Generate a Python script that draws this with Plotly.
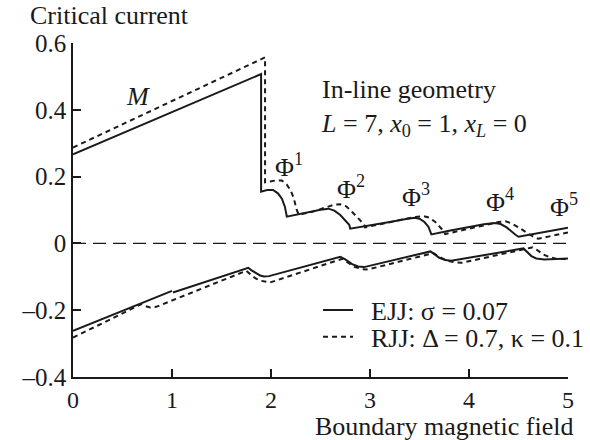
import plotly.graph_objects as go

# Critical current vs. boundary magnetic field, in-line geometry.
# Each branch is a list of (field, current) points; None separates branches.

# EJJ (sigma = 0.07), upper (positive) critical current
ejj_up_x = [0.0, 1.90, 1.90, 1.916, 1.96, 2.02, 2.07, 2.11, 2.14, 2.16,
            2.35, 2.50, 2.58, 2.64, 2.70, 2.75, 2.79, 2.80,
            3.00, 3.20, 3.35, 3.45, 3.50, 3.55, 3.59, 3.61, 3.62,
            3.80, 4.00, 4.15, 4.26, 4.32, 4.38, 4.43, 4.47, 4.50,
            4.70, 4.85, 5.00]
ejj_up_y = [0.267, 0.507, 0.155, 0.156, 0.160, 0.160, 0.150, 0.134, 0.110, 0.080,
            0.092, 0.101, 0.104, 0.098, 0.085, 0.068, 0.056, 0.044,
            0.053, 0.064, 0.072, 0.077, 0.074, 0.064, 0.050, 0.038, 0.027,
            0.038, 0.049, 0.057, 0.061, 0.058, 0.048, 0.035, 0.026, 0.020,
            0.030, 0.039, 0.047]

# RJJ (Delta = 0.7, kappa = 0.1), upper critical current
rjj_up_x = [0.0, 1.94, 1.94, 1.97, 2.04, 2.11, 2.16, 2.20, 2.23, 2.26, 2.28,
            2.40, 2.55, 2.64, 2.70, 2.76, 2.82, 2.88, 2.94, 2.95,
            3.10, 3.30, 3.45, 3.54, 3.60, 3.66, 3.71, 3.75, 3.76,
            3.95, 4.15, 4.30, 4.37, 4.43, 4.50, 4.58, 4.66, 4.70,
            4.85, 5.00]
rjj_up_y = [0.287, 0.557, 0.183, 0.184, 0.188, 0.188, 0.176, 0.158, 0.135, 0.100, 0.086,
            0.093, 0.108, 0.116, 0.117, 0.111, 0.094, 0.074, 0.057, 0.048,
            0.057, 0.070, 0.079, 0.082, 0.077, 0.064, 0.048, 0.035, 0.028,
            0.040, 0.054, 0.064, 0.066, 0.060, 0.048, 0.034, 0.018, 0.014,
            0.024, 0.033]

# EJJ lower (negative) critical current
ejj_lo_x = [0.0, 1.0, None,
            1.01, 1.77, 1.80, 1.85, 1.89, 1.93, 1.98,
            2.70, 2.75, 2.82, 2.88, 2.94,
            3.61, 3.65, 3.70, 3.76, 3.82,
            4.55, 4.59, 4.63, 4.68, 4.76, 5.00]
ejj_lo_y = [-0.262, -0.142, None,
            -0.147, -0.073, -0.080, -0.090, -0.096, -0.099, -0.098,
            -0.040, -0.048, -0.062, -0.069, -0.071,
            -0.024, -0.032, -0.043, -0.050, -0.052,
            -0.015, -0.026, -0.038, -0.045, -0.048, -0.045]

# RJJ lower critical current
rjj_lo_x = [0.0, 0.69, 0.73, 0.78, 0.84,
            1.75, 1.79, 1.84, 1.90, 1.99,
            2.72, 2.77, 2.84, 2.92, 2.98,
            3.64, 3.70, 3.78, 3.86, 3.93,
            4.64, 4.69, 4.75, 4.82, 4.90, 5.00]
rjj_lo_y = [-0.282, -0.182, -0.188, -0.192, -0.190,
            -0.082, -0.092, -0.104, -0.112, -0.117,
            -0.046, -0.056, -0.070, -0.077, -0.078,
            -0.029, -0.040, -0.052, -0.057, -0.058,
            -0.012, -0.020, -0.033, -0.042, -0.047, -0.047]

x_ticks = [0, 1, 2, 3, 4, 5]
y_ticks = [-0.4, -0.2, 0, 0.2, 0.4, 0.6]
y_tick_text = ["\u20130.4", "\u20130.2", "0", "0.2", "0.4", "0.6"]

# Flux-state labels: left edge and vertical centre in data units
phi_x = [2.02, 2.65, 3.30, 4.15, 4.80]
phi_y = [0.232, 0.168, 0.143, 0.128, 0.113]

FONT = "Liberation Serif, Times New Roman, serif"
BLACK = "#1a1a1a"
FS = 26

fig = go.Figure()

fig.add_trace(go.Scatter(x=ejj_up_x, y=ejj_up_y, mode="lines",
                         line=dict(color=BLACK, width=2),
                         name="\u2002EJJ: \u03c3 = 0.07", legend="legend"))
fig.add_trace(go.Scatter(x=ejj_lo_x, y=ejj_lo_y, mode="lines",
                         line=dict(color=BLACK, width=2),
                         showlegend=False))
fig.add_trace(go.Scatter(x=rjj_up_x, y=rjj_up_y, mode="lines",
                         line=dict(color=BLACK, width=2, dash="5px,4px"),
                         name="\u2002RJJ: \u0394 = 0.7, \u03ba = 0.1", legend="legend2"))
fig.add_trace(go.Scatter(x=rjj_lo_x, y=rjj_lo_y, mode="lines",
                         line=dict(color=BLACK, width=2, dash="5px,4px"),
                         showlegend=False))

# zero reference line
fig.add_hline(y=0, line=dict(color=BLACK, width=1.2, dash="13px,7px"))

annotations = [
    dict(text="Critical current", x=-0.09, y=1.081, xref="paper", yref="paper",
         xanchor="left", yanchor="middle", showarrow=False),
    dict(text="Boundary magnetic field", x=1.014, y=-0.147, xref="paper", yref="paper",
         xanchor="right", yanchor="middle", showarrow=False),
    dict(text="<i>M</i>", x=0.657, y=0.439, showarrow=False),
    dict(text="In-line geometry<br>"
              "<i>L</i> = 7, <i>x</i><sub>0</sub> = 1, <i>x<sub>L</sub></i> = 0",
         x=2.48, y=0.405, xanchor="left", yanchor="middle", align="left",
         showarrow=False),
]
for i, (px, py) in enumerate(zip(phi_x, phi_y), start=1):
    annotations.append(dict(text=f"\u03a6<sup>{i}</sup>", x=px, y=py,
                            xanchor="left", yanchor="middle", showarrow=False))

legend_style = dict(xanchor="left", yanchor="middle", bgcolor="rgba(0,0,0,0)",
                    font=dict(size=FS), itemwidth=30, borderwidth=0)

fig.update_layout(
    width=590, height=440,
    margin=dict(l=73, r=22, t=43, b=63, autoexpand=False),
    paper_bgcolor="white", plot_bgcolor="white",
    font=dict(family=FONT, size=FS, color=BLACK),
    annotations=annotations,
    legend=dict(x=0.495, y=0.2006, **legend_style),
    legend2=dict(x=0.495, y=0.12, **legend_style),
    xaxis=dict(range=[0, 5], tickvals=x_ticks, showgrid=False, zeroline=False,
               showline=True, linecolor=BLACK, linewidth=1.5,
               ticks="inside", ticklen=8, tickwidth=1.5, tickcolor=BLACK,
               tickfont=dict(size=24)),
    yaxis=dict(range=[-0.4, 0.6], tickvals=y_ticks, ticktext=y_tick_text,
               showgrid=False, zeroline=False,
               showline=True, linecolor=BLACK, linewidth=1.5,
               ticks="inside", ticklen=8, tickwidth=1.5, tickcolor=BLACK,
               tickfont=dict(size=25)),
)

fig.write_html("out.html")
